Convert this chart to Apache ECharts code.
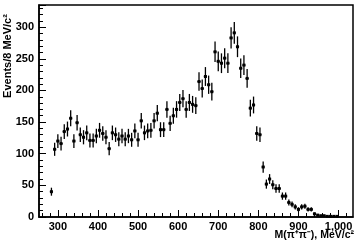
<!DOCTYPE html>
<html>
<head>
<meta charset="utf-8">
<script src="https://cdn.jsdelivr.net/npm/echarts@6/dist/echarts.min.js"></script>
<style>
  html, body { margin: 0; padding: 0; background: #fff; }
  #chart { width: 356px; height: 242px; }
</style>
</head>
<body>
<div id="chart"></div>
<script>
// histogram: 8 MeV bins, first filled bin centred at 284 MeV
const binStart = 284;
const binWidth = 8;
const counts = [
  40, 107, 120, 116, 135, 139, 156, 120, 149, 130, 126, 133, 121, 121, 128, 137, 132, 126, 108,
  133, 130, 123, 128, 123, 128, 122, 136, 122, 152, 133, 136, 137, 152, 164, 138, 138, 170, 148, 160, 170,
  181, 187, 170, 181, 178, 176, 214, 203, 222, 209, 198, 261, 246, 243, 251, 243, 283, 291, 269, 235, 240, 219,
  172, 177, 132, 130, 79, 52, 60, 51, 45, 45, 33, 33, 23, 20, 16, 12, 16, 17, 12, 12, 5, 3, 2, 2, 1, 1,
  1, 1, 0
];
const xMajor = [300, 400, 500, 600, 700, 800, 900, 1000];
const xMinor = [260, 280, 320, 340, 360, 380, 420, 440, 460, 480, 520, 540, 560, 580, 620, 640, 660, 680,
  720, 740, 760, 780, 820, 840, 860, 880, 920, 940, 960, 980, 1020];

const points = counts.map((c, i) => [binStart + i * binWidth, c]);
const labelFont = { fontFamily: 'Liberation Sans', fontWeight: 'bold', fontSize: 11, color: '#000' };

const chart = echarts.init(document.getElementById('chart'), null, { renderer: 'canvas' });

chart.setOption({
  animation: false,
  grid: { left: 39, right: 3, top: 5, bottom: 25, show: true, borderColor: '#000', borderWidth: 1.5 },
  xAxis: [{
    type: 'value', min: 253, max: 1036,
    axisLine: { lineStyle: { color: '#000', width: 1.5 } },
    axisTick: { inside: true, length: 7, customValues: xMajor, lineStyle: { color: '#000', width: 1 } },
    axisLabel: Object.assign({ customValues: xMajor, margin: 4 }, labelFont),
    splitLine: { show: false }
  }, {
    type: 'value', min: 253, max: 1036, position: 'bottom',
    axisLine: { show: false },
    axisTick: { inside: true, length: 4, customValues: xMinor, lineStyle: { color: '#000', width: 1 } },
    axisLabel: { show: false },
    splitLine: { show: false }
  }],
  yAxis: {
    type: 'value', min: 0, max: 335, interval: 50,
    axisLine: { show: true, lineStyle: { color: '#000', width: 1.5 } },
    axisTick: { show: true, inside: true, length: 7, lineStyle: { color: '#000' } },
    minorTick: { show: true, splitNumber: 5, length: 4, lineStyle: { color: '#000' } },
    axisLabel: Object.assign({ margin: 5, showMaxLabel: false }, labelFont),
    splitLine: { show: false }
  },
  graphic: [{
    type: 'text', x: 8, y: 56, rotation: Math.PI / 2,
    style: { text: 'Events/8 MeV/c\u00b2', font: 'bold 11px "Liberation Sans"', fill: '#000',
      align: 'center', verticalAlign: 'middle' }
  }, {
    type: 'text', right: 2, bottom: 1,
    style: { text: 'M(\u03c0\u207a\u03c0\u207b), MeV/c\u00b2', font: 'bold 10.5px "Liberation Sans"', fill: '#000' }
  }],
  series: [{
    type: 'custom',
    xAxisIndex: 0,
    data: points,
    renderItem: function (params, api) {
      const x = api.value(0);
      const y = api.value(1);
      if (y <= 0) return null;
      const err = Math.sqrt(y);
      const c = api.coord([x, y]);
      const hi = api.coord([x, y + err]);
      const lo = api.coord([x, Math.max(0, y - err)]);
      const l = api.coord([x - binWidth / 2, y]);
      const r = api.coord([x + binWidth / 2, y]);
      return {
        type: 'group',
        children: [
          { type: 'line', shape: { x1: c[0], y1: hi[1], x2: c[0], y2: lo[1] }, style: { stroke: '#000', lineWidth: 1.3 } },
          { type: 'line', shape: { x1: l[0], y1: c[1], x2: r[0], y2: c[1] }, style: { stroke: '#000', lineWidth: 1 } },
          { type: 'rect', shape: { x: c[0] - 1.5, y: c[1] - 1.5, width: 3, height: 3 }, style: { fill: '#000' } }
        ]
      };
    }
  }]
});
</script>
</body>
</html>
